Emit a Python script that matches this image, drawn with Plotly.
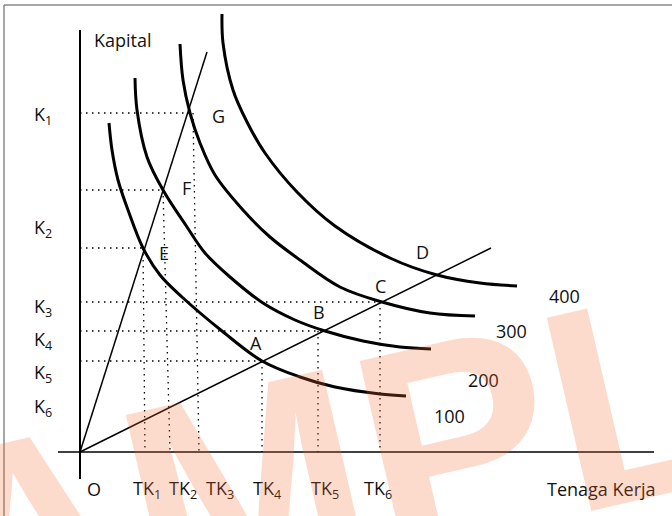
import plotly.graph_objects as go

# isoquant curves (x = labour, y = capital, page pixels)
q100_x = [109, 112, 118, 128, 143, 160, 182, 222, 262, 300, 335, 380, 406]
q100_y = [123, 150, 180, 210, 248, 275, 297, 331, 361, 377, 387, 394, 396]
q200_x = [135, 137, 147, 163, 187, 205, 230, 263, 295, 325, 363, 400, 431]
q200_y = [78, 110, 157, 190, 227, 253, 277, 303, 320, 331, 341, 347, 349]
q300_x = [180, 183, 190, 200, 215, 243, 270, 300, 340, 382, 430, 475]
q300_y = [44, 80, 113, 143, 175, 210, 237, 260, 287, 302, 313, 316]
q400_x = [222, 223, 233, 247, 265, 297, 335, 390, 437, 480, 517]
q400_y = [14, 43, 90, 122, 153, 192, 226, 258, 275, 283, 286]
curve_names = ["100", "200", "300", "400"]

# expansion paths from the origin
origin = (80, 452)
ray_steep_end = (207, 52)
ray_flat_end = (491, 248)

# points on the curves and their dotted guides
pt_names = ["G", "F", "E", "D", "C", "B", "A"]
pt_x = [190, 163, 143, 437, 382, 325, 262]
pt_y = [113, 190, 248, 275, 302, 331, 361]
hguide_pts = ["G", "F", "E", "C", "B", "A"]
vguide_top_x = [143, 163, 193, 262, 318, 380]
vguide_top_y = [248, 190, 113, 361, 331, 302]
vguide_bot_x = [145, 170, 199, 262, 318, 380]

k_labels = ["K<sub>1</sub>", "K<sub>2</sub>", "K<sub>3</sub>", "K<sub>4</sub>", "K<sub>5</sub>", "K<sub>6</sub>"]
k_label_y = [115, 228, 307, 340, 373, 407]
tk_labels = ["O", "TK<sub>1</sub>", "TK<sub>2</sub>", "TK<sub>3</sub>", "TK<sub>4</sub>", "TK<sub>5</sub>", "TK<sub>6</sub>"]
tk_label_x = [85, 131, 167, 204, 251, 309, 362]
curve_label_x = [432, 466, 494, 547]
curve_label_y = [416, 380, 331, 296]
pt_label_x = [218, 186, 164, 422, 380, 319, 256]
pt_label_y = [116, 188, 253, 252, 286, 312, 343]

FONT = "Open Sans, Calibri, sans-serif"
fig = go.Figure()

# dotted guide lines
for name in hguide_pts:
    i = pt_names.index(name)
    fig.add_trace(go.Scatter(x=[origin[0], pt_x[i]], y=[pt_y[i], pt_y[i]], mode="lines",
                             line=dict(color="black", width=1.3, dash="1.5px,4.5px")))
for xt, yt, xb in zip(vguide_top_x, vguide_top_y, vguide_bot_x):
    fig.add_trace(go.Scatter(x=[xt, xb], y=[yt, origin[1]], mode="lines",
                             line=dict(color="black", width=1.3, dash="1.5px,4.5px")))

# axes
fig.add_trace(go.Scatter(x=[80, 80], y=[30, 479], mode="lines", line=dict(color="black", width=2)))
fig.add_trace(go.Scatter(x=[58, 654], y=[452, 452], mode="lines", line=dict(color="black", width=1.6)))

# rays
for end in (ray_steep_end, ray_flat_end):
    fig.add_trace(go.Scatter(x=[origin[0], end[0]], y=[origin[1], end[1]], mode="lines",
                             line=dict(color="black", width=1.5)))

# isoquants
for xs, ys in [(q100_x, q100_y), (q200_x, q200_y), (q300_x, q300_y), (q400_x, q400_y)]:
    fig.add_trace(go.Scatter(x=xs, y=ys, mode="lines",
                             line=dict(color="black", width=3, shape="spline", smoothing=1)))

ann = []
def label(x, y, text, anchor="left"):
    ann.append(dict(x=x, y=y, text=text, showarrow=False, xanchor=anchor, yanchor="middle",
                    font=dict(family=FONT, size=18, color="#111")))

label(92, 40, "Kapital")
for t, y in zip(k_labels, k_label_y):
    label(32, y, t)
for t, x in zip(tk_labels, tk_label_x):
    label(x, 489, t)
label(545, 489, "Tenaga Kerja")
for t, x, y in zip(curve_names, curve_label_x, curve_label_y):
    label(x, y, t)
for t, x, y in zip(pt_names, pt_label_x, pt_label_y):
    label(x, y, t, anchor="center")

# watermark
ann.append(dict(x=324, y=470, text="<b>SAMPLE</b>", showarrow=False, textangle=-13,
                xanchor="center", yanchor="middle",
                font=dict(family="Liberation Sans, Arial", size=288,
                          color="rgba(245,110,50,0.25)")))

fig.update_layout(
    width=672, height=516, margin=dict(l=0, r=0, t=0, b=0),
    paper_bgcolor="white", plot_bgcolor="white", showlegend=False,
    xaxis=dict(range=[0, 672], visible=False, fixedrange=True),
    yaxis=dict(range=[516, 0], visible=False, fixedrange=True),
    annotations=ann,
    shapes=[
        dict(type="line", x0=4, y0=5, x1=672, y1=5, line=dict(color="#888", width=1.5)),
        dict(type="line", x0=4, y0=5, x1=4, y1=516, line=dict(color="#888", width=1.5)),
    ],
)

fig.write_html("out.html", config={"displayModeBar": False},
               post_script="document.body.style.margin='0';document.body.style.overflow='hidden';")
